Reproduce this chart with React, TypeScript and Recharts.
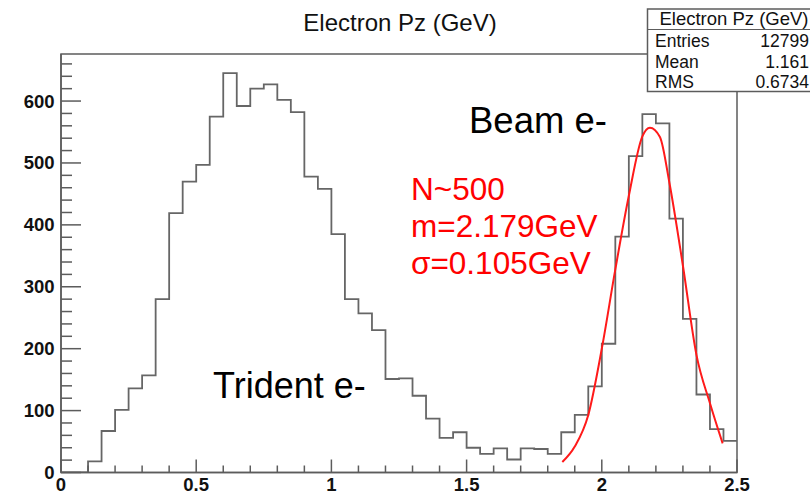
import React from "react";
import {
  ComposedChart,
  Line,
  XAxis,
  YAxis,
  ReferenceArea,
} from "recharts";

// histogram: 50 bins of 0.05 GeV from 0 to 2.5
const X_MIN = 0;
const BIN_WIDTH = 0.05;
const COUNTS = [
  0, 0, 18, 67, 101, 136, 157, 280, 419, 470,
  497, 575, 645, 592, 620, 627, 602, 582, 478, 458,
  385, 280, 257, 230, 151, 152, 124, 87, 56, 65,
  40, 30, 39, 21, 39, 38, 30, 65, 93, 139,
  208, 381, 511, 579, 564, 410, 248, 126, 70, 51,
];

// gaussian fit curve
const FIT_X = [1.854, 1.9, 1.95, 2.0, 2.05, 2.1, 2.15, 2.178, 2.215, 2.25, 2.3, 2.35, 2.4, 2.447];
const FIT_Y = [17, 42, 93, 200, 328, 447, 543, 557, 542, 468, 334, 190, 112, 47];

const X_TICKS = [0, 0.1, 0.2, 0.3, 0.4, 0.5, 0.6, 0.7, 0.8, 0.9, 1, 1.1, 1.2, 1.3, 1.4, 1.5, 1.6, 1.7, 1.8, 1.9, 2, 2.1, 2.2, 2.3, 2.4, 2.5];
const X_LABELS = [0, 0.5, 1, 1.5, 2, 2.5];
const Y_TICKS = [0, 20, 40, 60, 80, 100, 120, 140, 160, 180, 200, 220, 240, 260, 280, 300, 320, 340, 360, 380, 400, 420, 440, 460, 480, 500, 520, 540, 560, 580, 600, 620, 640, 660];
const Y_MAX = 676;

const STATS = [
  ["Entries", "12799"],
  ["Mean", "1.161"],
  ["RMS", "0.6734"],
];

const FONT = "'Liberation Sans', Arial, Helvetica, sans-serif";
const AXIS = "#5c5c5c";

const histData = COUNTS.map((c, i) => ({
  x: +(X_MIN + i * BIN_WIDTH).toFixed(2),
  h: c,
}));
histData.push({ x: +(X_MIN + COUNTS.length * BIN_WIDTH).toFixed(2), h: COUNTS[COUNTS.length - 1] });

const fitData = FIT_X.map((x, i) => ({ x, f: FIT_Y[i] }));

const renderXTick = (props: any) => {
  const { x, y, payload } = props;
  const v = payload.value;
  const major = X_LABELS.some((m) => Math.abs(m - v) < 1e-6);
  return (
    <g key={`xt-${v}`}>
      <line x1={x} x2={x} y1={y} y2={y - (major ? 13 : 7)} stroke={AXIS} strokeWidth={1.5} />
      {major && (
        <text x={x} y={y + 18} textAnchor="middle" fontFamily={FONT} fontWeight="bold" fontSize={18.5} fill="#111">
          {String(v)}
        </text>
      )}
    </g>
  );
};

const renderYTick = (props: any) => {
  const { x, y, payload } = props;
  const v = payload.value;
  const major = v % 100 === 0;
  return (
    <g key={`yt-${v}`}>
      <line x1={x} x2={x + (major ? 20 : 11)} y1={y} y2={y} stroke={AXIS} strokeWidth={1.5} />
      {major && (
        <text x={x - 6.5} y={y + 6.5} textAnchor="end" fontFamily={FONT} fontWeight="bold" fontSize={18.5} fill="#111">
          {v}
        </text>
      )}
    </g>
  );
};

export default function App() {
  return (
    <div style={{ position: "absolute", left: 0, top: 0, width: 810, height: 493, background: "#fff" }}>
      <ComposedChart width={810} height={493} margin={{ top: 54, right: 73, left: 0, bottom: 0 }}>
        <XAxis
          type="number"
          dataKey="x"
          domain={[0, 2.5]}
          ticks={X_TICKS}
          interval={0}
          height={20.5}
          tickSize={0}
          tickMargin={0}
          tickLine={false}
          axisLine={{ stroke: AXIS, strokeWidth: 1.5 }}
          tick={renderXTick}
          allowDataOverflow
        />
        <YAxis
          type="number"
          domain={[0, Y_MAX]}
          ticks={Y_TICKS}
          interval={0}
          width={61}
          tickSize={0}
          tickMargin={0}
          tickLine={false}
          axisLine={{ stroke: AXIS, strokeWidth: 1.5 }}
          tick={renderYTick}
          allowDataOverflow
        />
        <ReferenceArea x1={0} x2={2.5} y1={0} y2={Y_MAX} fill="none" stroke={AXIS} strokeWidth={1.5} ifOverflow="visible" />
        <Line
          data={histData}
          dataKey="h"
          type="stepAfter"
          stroke="#666"
          strokeWidth={1.8}
          dot={false}
          activeDot={false}
          isAnimationActive={false}
        />
        <Line
          data={fitData}
          dataKey="f"
          type="monotone"
          stroke="#ff1a1a"
          strokeWidth={2}
          dot={false}
          activeDot={false}
          isAnimationActive={false}
        />
      </ComposedChart>
      <svg width={810} height={493} style={{ position: "absolute", left: 0, top: 0, pointerEvents: "none" }}>
        <text x={400} y={31} textAnchor="middle" fontFamily={FONT} fontSize={24} fill="#111">
          Electron Pz (GeV)
        </text>
        <text x={469} y={133} fontFamily={FONT} fontSize={36.5} fill="#000">
          Beam e-
        </text>
        <text x={213} y={398} fontFamily={FONT} fontSize={36} fill="#000">
          Trident e-
        </text>
        <g fontFamily={FONT} fontSize={31.5} fill="#ff0000">
          <text x={411} y={199.5}>N~500</text>
          <text x={411} y={236.5}>m=2.179GeV</text>
          <text x={411} y={273.5}>σ=0.105GeV</text>
        </g>
        <g fontFamily={FONT} fill="#111">
          <rect x={647.5} y={9} width={170} height={82.5} fill="#fff" stroke={AXIS} strokeWidth={1.5} />
          <line x1={647.5} x2={810} y1={29.5} y2={29.5} stroke={AXIS} strokeWidth={1.2} />
          <text x={734} y={25} textAnchor="middle" fontSize={18.5}>
            Electron Pz (GeV)
          </text>
          {STATS.map(([k, v], i) => (
            <g key={k}>
              <text x={655} y={47 + i * 20.5} fontSize={17.5}>
                {k}
              </text>
              <text x={809} y={47 + i * 20.5} textAnchor="end" fontSize={17.5}>
                {v}
              </text>
            </g>
          ))}
        </g>
      </svg>
    </div>
  );
}
